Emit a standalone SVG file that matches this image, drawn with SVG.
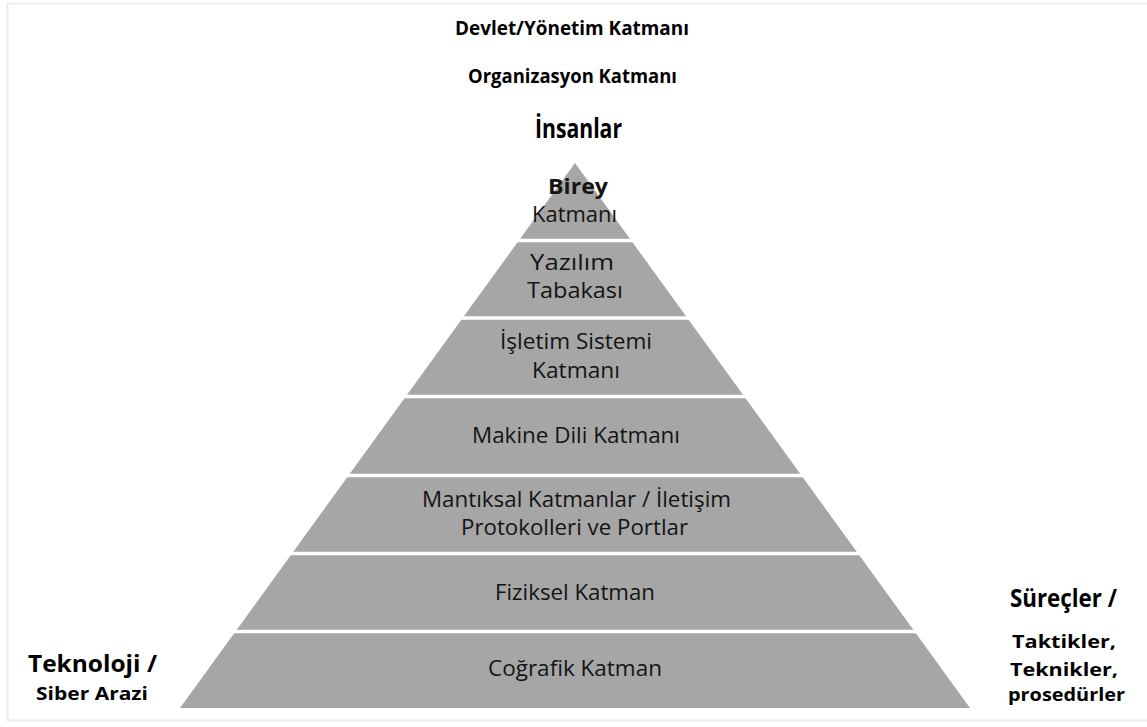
<svg xmlns="http://www.w3.org/2000/svg" width="1147" height="727" viewBox="0 0 1147 727">
<style>
.lbl{font-family:"Open Sans","Liberation Sans",sans-serif;font-size:21.5px;fill:#141414;text-anchor:middle}
.top{font-family:"Open Sans","Liberation Sans",sans-serif;font-weight:bold;fill:#000;text-anchor:middle}
.side{font-family:"Open Sans","Liberation Sans",sans-serif;font-weight:bold;fill:#000}
.sep{stroke:#fff;stroke-width:3.5}
</style>
<rect x="0" y="0" width="1147" height="727" fill="#fff"/>
<rect x="7.5" y="3.5" width="1160" height="717" fill="none" stroke="#ececec" stroke-width="2"/>
<g id="pyramid">
<polygon points="575,163 970,708 180,708" fill="#a6a6a6"/>
</g>
<g id="connectors">
<line class="sep" x1="400" y1="240.5" x2="750" y2="240.5"/>
<line class="sep" x1="400" y1="318" x2="750" y2="318"/>
<line class="sep" x1="350" y1="396.5" x2="800" y2="396.5"/>
<line class="sep" x1="300" y1="475.5" x2="850" y2="475.5"/>
<line class="sep" x1="250" y1="553.5" x2="900" y2="553.5"/>
<line class="sep" x1="200" y1="631.5" x2="950" y2="631.5"/>
</g>
<g id="layer-birey">
<text class="lbl" x="578" y="194" font-weight="bold" textLength="60" lengthAdjust="spacingAndGlyphs">Birey</text>
<text class="lbl" x="574.5" y="222" textLength="85" lengthAdjust="spacingAndGlyphs">Katmanı</text>
</g>
<g id="layer-yazilim">
<text class="lbl" x="572" y="270" textLength="84" lengthAdjust="spacingAndGlyphs">Yazılım</text>
<text class="lbl" x="575" y="298" textLength="96" lengthAdjust="spacingAndGlyphs">Tabakası</text>
</g>
<g id="layer-isletim">
<text class="lbl" x="576" y="349" textLength="152" lengthAdjust="spacingAndGlyphs">İşletim Sistemi</text>
<text class="lbl" x="576" y="378" textLength="88" lengthAdjust="spacingAndGlyphs">Katmanı</text>
</g>
<g id="layer-makine">
<text class="lbl" x="576" y="443" textLength="208" lengthAdjust="spacingAndGlyphs">Makine Dili Katmanı</text>
</g>
<g id="layer-mantiksal">
<text class="lbl" x="576.5" y="507" textLength="309" lengthAdjust="spacingAndGlyphs">Mantıksal Katmanlar / İletişim</text>
<text class="lbl" x="574.5" y="535" textLength="227" lengthAdjust="spacingAndGlyphs">Protokolleri ve Portlar</text>
</g>
<g id="layer-fiziksel">
<text class="lbl" x="575" y="600" textLength="160" lengthAdjust="spacingAndGlyphs">Fiziksel Katman</text>
</g>
<g id="layer-cografik">
<text class="lbl" x="575" y="676" textLength="174" lengthAdjust="spacingAndGlyphs">Coğrafik Katman</text>
</g>
<g id="label-devlet">
<text class="top" x="572" y="35" font-size="19" textLength="234" lengthAdjust="spacingAndGlyphs">Devlet/Yönetim Katmanı</text>
</g>
<g id="label-organizasyon">
<text class="top" x="572.5" y="83" font-size="19" textLength="209" lengthAdjust="spacingAndGlyphs">Organizasyon Katmanı</text>
</g>
<g id="label-insanlar">
<text class="top" x="578.5" y="138" font-size="26" textLength="87" lengthAdjust="spacingAndGlyphs">İnsanlar</text>
</g>
<g id="label-teknoloji">
<text class="side" x="28" y="672" font-size="23" textLength="129" lengthAdjust="spacingAndGlyphs">Teknoloji /</text>
<text class="side" x="36" y="700" font-size="18" textLength="112" lengthAdjust="spacingAndGlyphs">Siber Arazi</text>
</g>
<g id="label-surecler">
<text class="side" x="1010" y="607" font-size="25" textLength="107" lengthAdjust="spacingAndGlyphs">Süreçler /</text>
<text class="side" x="1012" y="648" font-size="18" textLength="104" lengthAdjust="spacingAndGlyphs">Taktikler,</text>
<text class="side" x="1010" y="676" font-size="18" textLength="108" lengthAdjust="spacingAndGlyphs">Teknikler,</text>
<text class="side" x="1008" y="701" font-size="17" textLength="117" lengthAdjust="spacingAndGlyphs">prosedürler</text>
</g>
</svg>
